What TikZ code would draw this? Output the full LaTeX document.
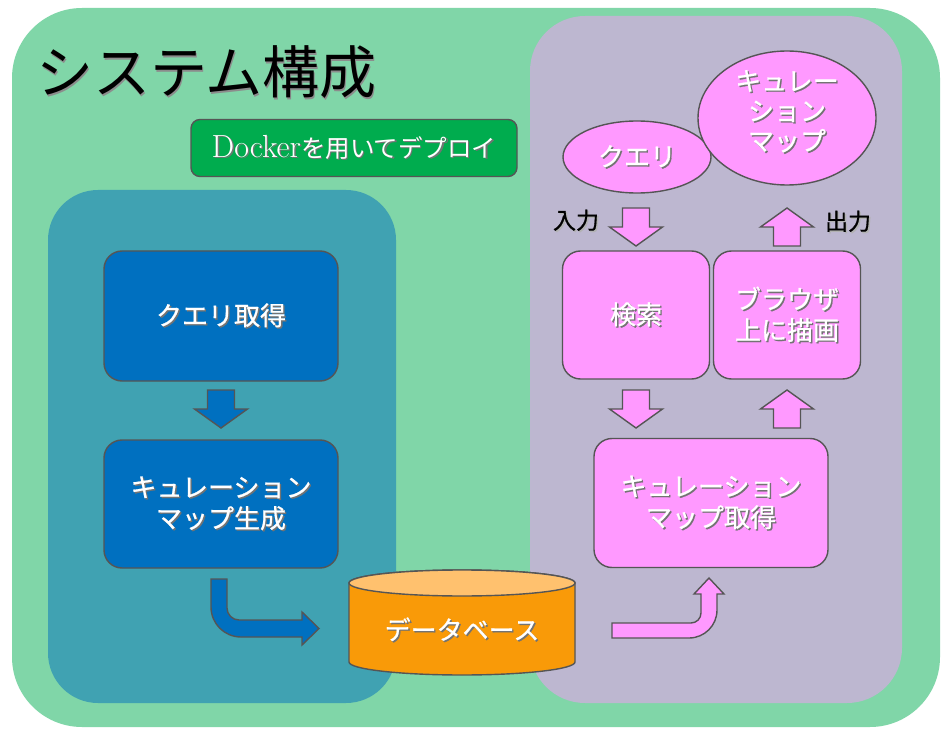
\documentclass[tikz,border=0pt]{standalone}
\usepackage{fontspec}
\newfontfamily\jp{Noto Sans CJK JP}
\newfontfamily\jpm[FakeBold=0.7]{Noto Sans CJK JP}
\usetikzlibrary{shapes.geometric}
\definecolor{bggreen}{HTML}{80D6A8}
\definecolor{teal}{HTML}{40A2B2}
\definecolor{lav}{HTML}{BDB7D0}
\definecolor{dgreen}{HTML}{00AC4E}
\definecolor{dblue}{HTML}{0070C0}
\definecolor{pinkf}{HTML}{FF99FF}
\definecolor{orangef}{HTML}{F99A08}
\definecolor{orangetop}{HTML}{FFC16E}
\definecolor{edge}{HTML}{555555}
\newcommand\shtext[2][black!55]{\leavevmode\rlap{\kern1.4pt\raisebox{-1.4pt}{\textcolor{#1}{#2}}}#2}
\tikzset{
  outl/.style={draw=edge, line width=1.4pt},
  box/.style={outl, rounded corners=18pt, text=white, align=center,
    font=\jpm\fontsize{26}{31}\selectfont},
  ell/.style={outl, ellipse, fill=pinkf, inner sep=0pt},
  wtext/.style={text=white, align=center, font=\jpm\fontsize{26}{30}\selectfont},
  lbl/.style={font=\jpm\fontsize{23}{24}\selectfont, text=black},
  dnarrow/.pic={\filldraw[pic actions] (-13.5,0) -- (13.5,0) -- (13.5,19) -- (26.5,19) -- (0,38) -- (-26.5,19) -- (-13.5,19) -- cycle;},
  uparrow/.pic={\filldraw[pic actions] (0,0) -- (26.5,19) -- (13.5,19) -- (13.5,38) -- (-13.5,38) -- (-13.5,19) -- (-26.5,19) -- cycle;}
}
\begin{document}
\begin{tikzpicture}[x=1pt,y=-1pt]
\useasboundingbox (0,0) rectangle (948,743);
\fill[white] (0,0) rectangle (948,743);
% panels
\fill[bggreen, rounded corners=70pt] (12,8) rectangle (940,727);
\fill[teal, rounded corners=50pt] (48,190) rectangle (396,703);
\fill[lav, rounded corners=55pt] (530,16) rectangle (902,703);
% title
\node[anchor=west, font=\jp\fontsize{57}{60}\selectfont, inner sep=0pt] (title) at (36,73) {\shtext[black!45]{システム構成}};
% docker
\node[outl, fill=dgreen, rounded corners=9pt, minimum width=326pt, minimum height=57pt, text=white] (dk) at (354,148) {\shtext{\fontsize{32}{34}\selectfont\addfontfeatures{FakeBold=0.6}Docker{\jp\fontsize{24.5}{30}\selectfont を用いてデプロイ}}};
% left boxes
\node[box, fill=dblue, minimum width=234pt, minimum height=130pt] (qget) at (221,316) {\shtext{クエリ取得}};
\node[box, fill=dblue, minimum width=234pt, minimum height=128pt] (gen) at (221,504) {\shtext{キュレーション}\\\shtext{マップ生成}};
\pic[fill=dblue, outl] at (221,390) {dnarrow};
% blue bent arrow
\filldraw[fill=dblue, outl] (211,579) -- (227,579) -- (227,608) .. controls (227,614.6) and (232.4,620) .. (239,620) -- (302,620) -- (302,612) -- (319,628.5) -- (302,645) -- (302,637) -- (241,637) .. controls (224.4,637) and (211,623.6) .. (211,607) -- cycle;
% database
\filldraw[fill=orangef, outl] (349,583) -- (349,662) arc[start angle=180, end angle=360, x radius=113pt, y radius=13pt] -- (575,583) arc[start angle=0, end angle=180, x radius=113pt, y radius=13pt] -- cycle;
\filldraw[fill=orangetop, outl] (462,583) ellipse[x radius=113pt, y radius=13pt];
\node[wtext] (db) at (462,630) {\shtext{データベース}};
% right side
\node[ell, minimum width=148pt, minimum height=72pt] (query) at (637,157) {};
\node[wtext] (querytext) at (query.center) {\shtext{クエリ}};
\node[ell, minimum width=178pt, minimum height=134pt] (map) at (787,118) {};
\node[wtext] (maptext) at ([yshift=6pt]map.center) {\shtext{キュレー}\\\shtext{ション}\\\shtext{マップ}};
\node[lbl] (in) at (576,221) {\shtext[black!30]{入力}};
\node[lbl] (out) at (848,222) {\shtext[black!30]{出力}};
\pic[fill=pinkf, outl] at (636,208) {dnarrow};
\pic[fill=pinkf, outl] at (787,208) {uparrow};
\node[box, fill=pinkf, minimum width=147pt, minimum height=128pt] (search) at (636,315) {\shtext{検索}};
\node[box, fill=pinkf, minimum width=147pt, minimum height=128pt] (draw) at (787,315) {\shtext{ブラウザ}\\\shtext{上に描画}};
\pic[fill=pinkf, outl] at (636,390) {dnarrow};
\pic[fill=pinkf, outl] at (787,390) {uparrow};
\node[box, fill=pinkf, minimum width=234pt, minimum height=129pt] (mget) at (711,503) {\shtext{キュレーション}\\\shtext{マップ取得}};
% pink bent arrow
\filldraw[fill=pinkf, outl] (612,623) -- (691,623) .. controls (696.5,623) and (701,618.5) .. (701,613) -- (701,594) -- (694,594) -- (709,578) -- (724,594) -- (717,594) -- (717,610) .. controls (717,625.5) and (704.5,638) .. (689,638) -- (612,638) -- cycle;
\end{tikzpicture}
\end{document}
